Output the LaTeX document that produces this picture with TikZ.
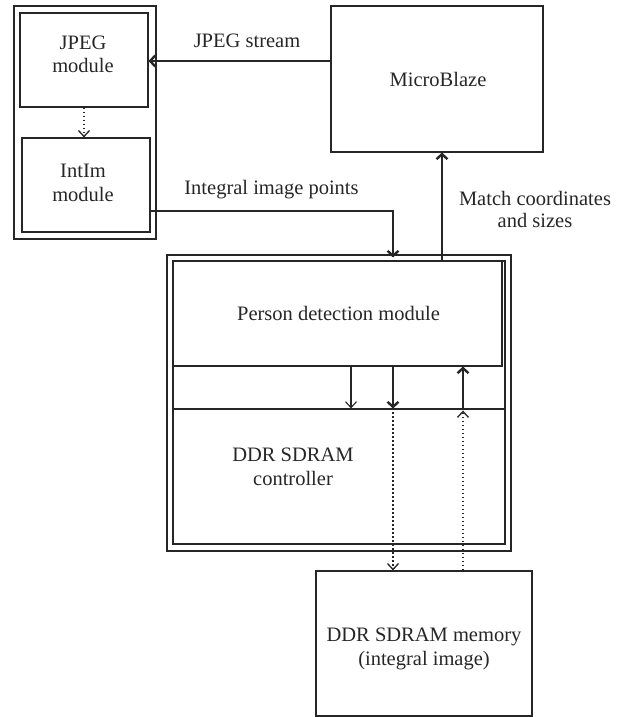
\documentclass[tikz,border=0pt]{standalone}
\usepackage{fontspec}
\setmainfont{Liberation Serif}
\usetikzlibrary{arrows.meta,fit}
\begin{document}
\begin{tikzpicture}[x=1pt,y=-1pt,
  box/.style={draw=black!85, line width=1.1pt, inner sep=0pt},
  txt/.style={font=\fontsize{20.5}{24}\selectfont, align=center, inner sep=0pt, anchor=base, text=black!85},
  thinarrow/.style={-{Straight Barb[length=6pt,width=11pt]}, draw=black!85, line width=1.1pt},
  thickarrow/.style={-{Straight Barb[length=5pt,width=11pt]}, draw=black!85, line width=2.4pt},
  dotarrow/.style={-{Straight Barb[length=6pt,width=11pt]}, draw=black!85, line width=1.3pt, dash pattern=on 1.4pt off 2.6pt}]
\useasboundingbox (0,0) rectangle (624,717);

% boxes
\node[box, fit={(14,6) (156,239)}] (outerL) {};
\node[box, fit={(20,13) (148,107)}] (jpeg) {};
\node[box, fit={(22,138) (150,232)}] (intim) {};
\node[box, fit={(331,6) (543,152)}] (mb) {};
\node[box, fit={(167,255) (511,551)}] (outerP) {};
\node[box, fit={(173,261) (505,544)}] (innerP) {};
\node[box, fit={(173,261) (502,366)}] (pd) {};
\node[box, fit={(173,409) (505,544)}] (ctrl) {};
\node[box, fit={(316,571) (532,716)}] (mem) {};

% box texts (base = baseline of last line)
\node[txt] (tjpeg) at (83,73) {JPEG\\module};
\node[txt] (tintim) at (83,201) {IntIm\\module};
\node[txt] (tmb) at (438,86) {MicroBlaze};
\node[txt] (tpd) at (338.5,320) {Person detection module};
\node[txt] (tctrl) at (293,485) {DDR SDRAM\\controller};
\node[txt] (tmem) at (424,665) {DDR SDRAM memory\\(integral image)};

% labels
\node[txt] (ljs) at (247,48) {JPEG stream};
\node[txt] (lip) at (271.5,194) {Integral image points};
\node[txt] (lmc) at (535,227) {Match coordinates\\[-2pt]and sizes};

% helper coordinates
\coordinate (ip) at (393,211);
\coordinate (mc) at (442,200);
\coordinate (a1) at (351,390);
\coordinate (a2) at (393,390);
\coordinate (a3) at (463,390);

% connectors
\draw[thickarrow] (mb.west |- 0,61) -- (jpeg.east |- 0,61);
\draw[dotarrow] (jpeg.south) -- (jpeg.south |- intim.north);
\draw[thickarrow] (intim.east |- ip) -- (ip) -- ([yshift=3pt]ip |- innerP.north);
\draw[thickarrow] (mc |- innerP.north) -- (mc |- mb.south);
\draw[thinarrow] (a1 |- pd.south) -- (a1 |- ctrl.north);
\draw[thickarrow] (a2 |- pd.south) -- (a2 |- ctrl.north);
\draw[thickarrow] (a3 |- ctrl.north) -- (a3 |- pd.south);
\draw[dotarrow, shorten <=4pt] (a2 |- ctrl.north) -- (a2 |- mem.north);
\draw[dotarrow, shorten >=2pt] (a3 |- mem.north) -- (a3 |- ctrl.north);
\end{tikzpicture}
\end{document}
